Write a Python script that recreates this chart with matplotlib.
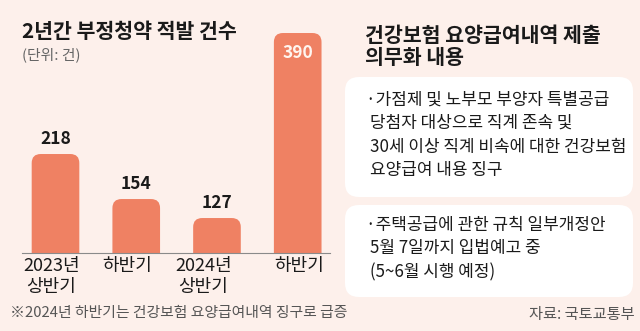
import matplotlib
matplotlib.use("Agg")
import matplotlib.pyplot as plt
from matplotlib.patches import FancyBboxPatch
import matplotlib.transforms as mtransforms

plt.rcParams['font.family'] = ['Noto Sans CJK KR', 'DejaVu Sans']

# ---- data ----
categories = ["2023년\n상반기", "하반기", "2024년\n상반기", "하반기"]
counts = [218, 154, 127, 390]
title_left = "2년간 부정청약 적발 건수"
unit_text = "(단위: 건)"
title_right = ["건강보험 요양급여내역 제출", "의무화 내용"]
box1_lines = ["·가점제 및 노부모 부양자 특별공급", "당첨자 대상으로 직계 존속 및",
              "30세 이상 직계 비속에 대한 건강보험", "요양급여 내용 징구"]
box2_lines = ["·주택공급에 관한 규칙 일부개정안", "5월 7일까지 입법예고 중", "(5~6월 시행 예정)"]
footnote = "※2024년 하반기는 건강보험 요양급여내역 징구로 급증"
source = "자료: 국토교통부"

BG = "#FDF0EB"
BAR = "#EF8163"
W, H = 640, 331

fig = plt.figure(figsize=(W / 100, H / 100), dpi=100, facecolor=BG)

# overlay axes in pixel coordinates
ov = fig.add_axes([0, 0, 1, 1])
ov.set_xlim(0, W)
ov.set_ylim(H, 0)
ov.axis("off")
ov.patch.set_alpha(0)

# ---- bar chart ----
ax_l, ax_r, ax_b, ax_t = 22, 330, 253, 15
ax = fig.add_axes([ax_l / W, (H - ax_b) / H, (ax_r - ax_l) / W, (ax_b - ax_t) / H])
ax.patch.set_alpha(0)
ymin = 77.3
ppv = 0.7035  # pixels per value
ax.set_ylim(ymin, ymin + (ax_b - ax_t) / ppv)
xs = list(range(len(counts)))
ax.set_xlim(-0.415, 3.40)
bar_w = 0.59
bars = ax.bar(xs, counts, width=bar_w, color="none", edgecolor="none")

px_per_x = (ax_r - ax_l) / (3.40 + 0.415)
aspect = px_per_x / ppv
r_px = 9
for rect in bars:
    fb = FancyBboxPatch((rect.get_x(), rect.get_y()), rect.get_width(), rect.get_height(),
                        boxstyle=f"round,pad=0,rounding_size={r_px / px_per_x}",
                        mutation_aspect=aspect, facecolor=BAR, edgecolor="none",
                        transform=ax.transData, clip_on=True)
    ax.add_patch(fb)
    fb.set_clip_path(ax.patch)

for i, v in enumerate(counts):
    if v == max(counts):
        ax.annotate(str(v), (i, v), xytext=(0, -14.5), textcoords="offset points",
                    ha="center", va="center", fontsize=12.5, fontweight="bold", color="#FFF6F0")
    else:
        ax.annotate(str(v), (i, v), xytext=(0, 10.5), textcoords="offset points",
                    ha="center", va="center", fontsize=12.5, fontweight="bold", color="#1a1a1a")

for s in ["top", "right", "left"]:
    ax.spines[s].set_visible(False)
ax.spines["bottom"].set_color("#8a8a8a")
ax.spines["bottom"].set_linewidth(0.8)
ax.set_yticks([])
ax.set_xticks([])

label_dx = [-4, -9, -13.5, 1]
trans = mtransforms.blended_transform_factory(ax.transData, ax.transAxes)
for i, lab in enumerate(categories):
    t = trans + mtransforms.ScaledTranslation(label_dx[i] / 100, -4 / 100, fig.dpi_scale_trans)
    ax.text(i, 0, lab, transform=t, ha="center", va="top", fontsize=13,
            color="#1a1a1a", linespacing=1.2, clip_on=False)

# ---- texts ----
ov.text(22, 32, title_left, fontsize=14.8, fontweight="bold", color="#1a1a1a", va="center", ha="left")
ov.text(22, 55, unit_text, fontsize=10.7, color="#666666", va="center", ha="left")
ov.text(365, 35, title_right[0], fontsize=14.8, fontweight="bold", color="#1a1a1a", va="center", ha="left")
ov.text(365, 57, title_right[1], fontsize=14.8, fontweight="bold", color="#1a1a1a", va="center", ha="left")

for (x0, y0, w, h) in [(345, 77, 288, 120), (345, 205, 288, 92)]:
    ov.add_patch(FancyBboxPatch((x0, y0), w, h, boxstyle="round,pad=0,rounding_size=14",
                                facecolor="white", edgecolor="none"))

for lines, ys in [(box1_lines, [100, 123, 147, 170]), (box2_lines, [225, 248, 272])]:
    for k, (ln, y) in enumerate(zip(lines, ys)):
        ov.text(366 if k == 0 else 370, y, ln, fontsize=12.2, color="#1a1a1a", va="center", ha="left")

ov.text(10, 313, footnote, fontsize=10.7, color="#555555", va="center", ha="left")
ov.text(635, 315, source, fontsize=11, color="#555555", va="center", ha="right")

fig.savefig("out.png", dpi=100, facecolor=BG)
